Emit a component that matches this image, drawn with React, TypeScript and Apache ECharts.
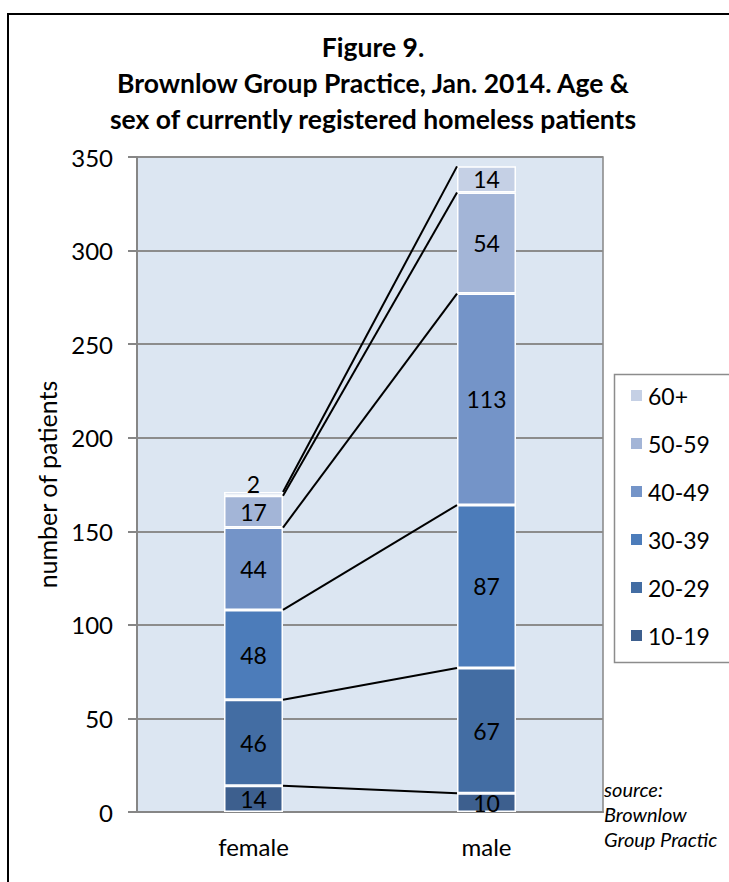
import React, { useEffect, useRef } from "react";
import * as echarts from "echarts";

const categories = ["female", "male"];
const ageGroups = ["10-19", "20-29", "30-39", "40-49", "50-59", "60+"];
const femaleValues = [14, 46, 48, 44, 17, 2];
const maleValues = [10, 67, 87, 113, 54, 14];
const groupColors = ["#3d5f8e", "#436da3", "#4c7cba", "#7494c8", "#a3b5d7", "#c5d0e5"];
const titleLines = [
  "Figure 9.",
  "Brownlow Group Practice, Jan. 2014. Age &",
  "sex of currently registered homeless patients",
];
const sourceLines = ["source:", "Brownlow", "Group Practic"];
const yAxisName = "number of patients";

const FONT = "Lato, 'Open Sans', sans-serif";
const BAR_W = 59;

export default function App() {
  const ref = useRef<HTMLDivElement>(null);

  useEffect(() => {
    if (!ref.current) return;
    const chart = echarts.init(ref.current, undefined, { renderer: "svg" });

    const cumF: number[] = [];
    const cumM: number[] = [];
    let sf = 0;
    let sm = 0;
    for (let i = 0; i < ageGroups.length; i++) {
      sf += femaleValues[i];
      sm += maleValues[i];
      cumF.push(sf);
      cumM.push(sm);
    }

    const barSeries = ageGroups.map((g, i) => ({
      name: g,
      type: "bar",
      stack: "total",
      barWidth: BAR_W,
      itemStyle: { color: groupColors[i], borderColor: "#ffffff", borderWidth: 1.5 },
      label: {
        show: true,
        position: "inside",
        color: "#000",
        fontSize: 23,
        fontFamily: FONT,
      },
      data: [femaleValues[i], maleValues[i]].map((v) =>
        v < 5 ? { value: v, label: { offset: [0, -10] } } : v
      ),
      z: 3,
    }));

    const lineSeries = {
      type: "custom",
      name: "series lines",
      encode: { x: 0, y: 1 },
      data: cumF.map((f, i) => [0, f, cumM[i]]),
      renderItem: (params: any, api: any) => {
        const f = api.value(1);
        const m = api.value(2);
        const p1 = api.coord([0, f]);
        const p2 = api.coord([1, m]);
        return {
          type: "line",
          shape: { x1: p1[0] + BAR_W / 2, y1: p1[1], x2: p2[0] - BAR_W / 2, y2: p2[1] },
          style: { stroke: "#000", lineWidth: 2 },
        };
      },
      z: 4,
      silent: true,
    };

    chart.setOption({
      animation: false,
      backgroundColor: "#ffffff",
      grid: {
        left: 137,
        top: 157,
        width: 466,
        height: 655,
        show: true,
        backgroundColor: "#dce6f2",
        borderColor: "#868686",
        borderWidth: 1.5,
        containLabel: false,
      },
      xAxis: {
        type: "category",
        data: categories,
        axisLine: { show: true, lineStyle: { color: "#868686", width: 2 } },
        axisTick: { show: false },
        axisLabel: { color: "#000", fontSize: 24, fontFamily: FONT, margin: 22 },
      },
      yAxis: {
        type: "value",
        min: 0,
        max: 350,
        interval: 50,
        name: yAxisName,
        nameLocation: "middle",
        nameRotate: 90,
        nameGap: 78,
        nameTextStyle: { color: "#000", fontSize: 25, fontFamily: FONT },
        axisLine: { show: true, lineStyle: { color: "#868686", width: 2 } },
        axisTick: { show: true, length: 9, lineStyle: { color: "#868686", width: 2 } },
        axisLabel: { color: "#000", fontSize: 24, fontFamily: FONT, margin: 24 },
        splitLine: { show: true, lineStyle: { color: "#8c8c8c", width: 2 } },
      },
      legend: {
        orient: "vertical",
        left: 624,
        top: 379,
        data: [...ageGroups].reverse(),
        icon: "rect",
        itemWidth: 13,
        itemHeight: 13,
        itemGap: 25,
        itemTextGap: 8,
        textStyle: { color: "#000", fontSize: 23, fontFamily: FONT },
      },
      graphic: [
        {
          type: "rect",
          shape: { x: 8, y: 14, width: 800, height: 900 },
          style: { fill: "none", stroke: "#000", lineWidth: 2 },
          silent: true,
        },
        {
          type: "rect",
          shape: { x: 614.5, y: 374.5, width: 200, height: 288 },
          style: { fill: "none", stroke: "#8c8c8c", lineWidth: 1.5 },
          silent: true,
        },
        {
          type: "text",
          x: 373,
          y: 29,
          style: {
            text: titleLines.join("\n"),
            textAlign: "center",
            textVerticalAlign: "top",
            fontSize: 26.5,
            fontWeight: "bold",
            fontFamily: FONT,
            lineHeight: 36,
            fill: "#000",
          },
        },
        {
          type: "text",
          x: 604,
          y: 776,
          style: {
            text: sourceLines.join("\n"),
            textAlign: "left",
            textVerticalAlign: "top",
            fontSize: 20,
            fontStyle: "italic",
            fontFamily: FONT,
            lineHeight: 25,
            fill: "#000",
          },
        },
      ],
      series: [...barSeries, lineSeries],
    });

    return () => chart.dispose();
  }, []);

  return (
    <div
      ref={ref}
      style={{ position: "fixed", left: 0, top: 0, width: 729, height: 882, background: "#fff" }}
    />
  );
}
